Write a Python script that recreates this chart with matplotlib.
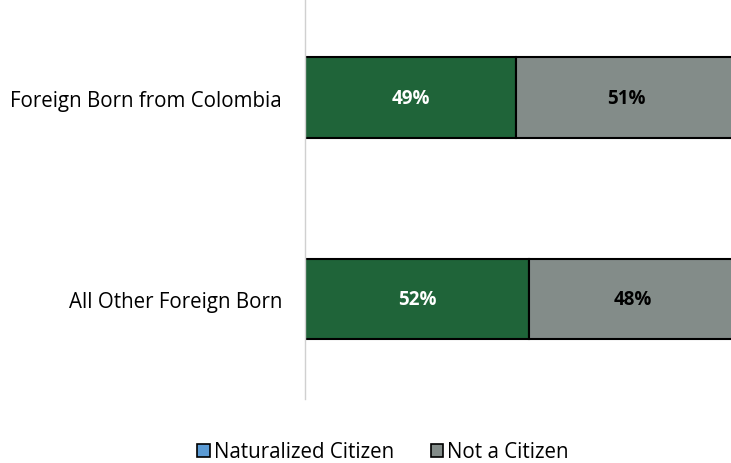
import matplotlib.pyplot as plt
from matplotlib.patches import Patch

categories = ['All Other Foreign Born', 'Foreign Born from Colombia']
naturalized = [0.52, 0.49]
not_citizen = [0.48, 0.51]
series_names = ['Naturalized Citizen', 'Not a Citizen']

plt.rcParams['font.family'] = ['Open Sans', 'DejaVu Sans']

fig = plt.figure(figsize=(7.31, 4.64), dpi=100)
ax = fig.add_axes([305 / 731, 64 / 464, 426 / 731, 400 / 464])

y = list(range(len(categories)))
green = '#1f6439'
grey = '#838c89'

b1 = ax.barh(y, naturalized, height=0.40, color=green, edgecolor='black', linewidth=1.5)
b2 = ax.barh(y, not_citizen, left=naturalized, height=0.40, color=grey, edgecolor='black', linewidth=1.5)

for i in y:
    ax.text(naturalized[i] / 2, i, f"{naturalized[i]:.0%}", ha='center', va='center',
            color='white', fontsize=13.5, fontweight='bold')
    ax.text(naturalized[i] + not_citizen[i] / 2, i, f"{not_citizen[i]:.0%}", ha='center', va='center',
            color='black', fontsize=13.5, fontweight='bold')

ax.set_xlim(0, 426 / 431)
ax.set_ylim(-0.496, 1.489)
ax.set_yticks(y)
ax.set_yticklabels(categories, fontsize=14.8)
ax.tick_params(axis='y', length=0, pad=16.5)
ax.set_xticks([])
for side in ['top', 'right', 'bottom']:
    ax.spines[side].set_visible(False)
ax.spines['left'].set_color('#d0d0d0')
ax.spines['left'].set_linewidth(1)

handles = [Patch(facecolor='#5b9bd5', edgecolor='black', linewidth=1.2),
           Patch(facecolor=grey, edgecolor='black', linewidth=1.2)]
fig.legend(handles, series_names, loc='center', bbox_to_anchor=(383 / 731, 1 - 453 / 464),
           ncol=2, frameon=False, fontsize=14.8, handlelength=0.6, handleheight=0.6,
           handletextpad=0.2, columnspacing=1.8)

fig.savefig('out.png', dpi=100)
